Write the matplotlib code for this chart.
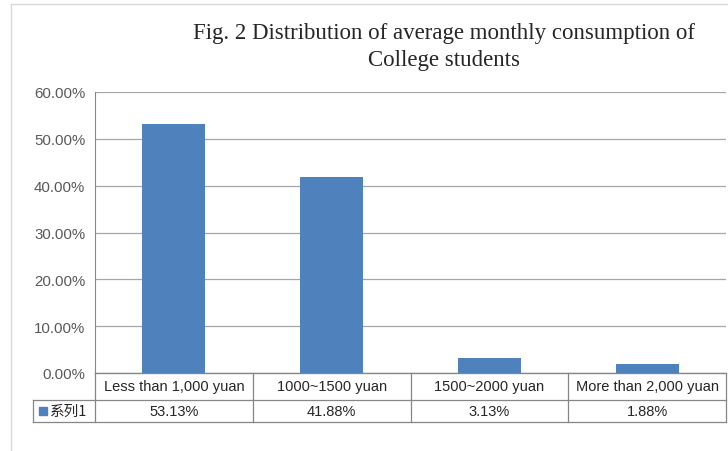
import matplotlib.pyplot as plt
import matplotlib.transforms as mtransforms
from matplotlib.patches import Rectangle

# dados do grafico
categorias = ['Less than 1,000 yuan', '1000~1500 yuan', '1500~2000 yuan', 'More than 2,000 yuan']
valores = [53.13, 41.88, 3.13, 1.88]
serie = '系列1'
titulo = 'Fig. 2 Distribution of average monthly consumption of\nCollege students'
yticks = [0, 10, 20, 30, 40, 50, 60]

W, H = 728, 452
cor_barra = '#4f81bd'
cor_grade = '#a6a6a6'
cor_texto = '#595959'

fig = plt.figure(figsize=(W / 100, H / 100), dpi=100)

# moldura do grafico (so aparecem a borda esquerda e a de cima)
fig.add_artist(plt.Line2D([11 / W, 11 / W], [0, 1 - 5 / H], color='#d9d9d9', lw=1))
fig.add_artist(plt.Line2D([11 / W, 1], [1 - 5 / H, 1 - 5 / H], color='#d9d9d9', lw=1))

# area de plotagem
x0, x1, y0, y1 = 95, 726, 93, 374
ax = fig.add_axes([x0 / W, 1 - y1 / H, (x1 - x0) / W, (y1 - y0) / H])

pos = list(range(len(categorias)))
ax.bar(pos, valores, width=0.4, color=cor_barra, zorder=3)
ax.set_xlim(-0.5, len(categorias) - 0.5)
ax.set_ylim(0, 60)
ax.set_yticks(yticks)
ax.set_yticklabels(['%.2f%%' % v for v in yticks])
ax.set_xticks([])
ax.tick_params(axis='y', length=0, pad=7, labelsize=10.8, labelcolor=cor_texto)
for lbl in ax.get_yticklabels():
    lbl.set_family('Liberation Sans')

ax.grid(True, axis='y', color=cor_grade, lw=0.9, zorder=0)
for s in ['top', 'right']:
    ax.spines[s].set_visible(False)
ax.spines['left'].set_color('#868686')
ax.spines['bottom'].set_color('#868686')

# tabela de dados abaixo do eixo
ph = y1 - y0
r1 = -(401 - y1) / ph
r2 = -(423 - y1) / ph
esq = -0.5 - (x0 - 33) / ((x1 - x0) / len(categorias))
dir_ = len(categorias) - 0.5
trans = mtransforms.blended_transform_factory(ax.transData, ax.transAxes)
kw = dict(transform=trans, color='#868686', lw=0.9, clip_on=False)

ax.plot([-0.5, dir_], [0, 0], **kw)
ax.plot([esq, dir_], [r1, r1], **kw)
ax.plot([esq, dir_], [r2, r2], **kw)
ax.plot([esq, esq], [r1, r2], **kw)
for i in range(len(categorias) + 1):
    ax.plot([i - 0.5, i - 0.5], [0, r2], **kw)

for i, (c, v) in enumerate(zip(categorias, valores)):
    ax.text(i, r1 / 2, c, transform=trans, ha='center', va='center',
            fontsize=10.5, color='#262626', family='Liberation Sans')
    ax.text(i, (r1 + r2) / 2, '%.2f%%' % v, transform=trans, ha='center', va='center',
            fontsize=10.5, color='#262626', family='Liberation Sans')

# legenda da serie na tabela
ax.add_patch(Rectangle((esq + 0.04, (r1 + r2) / 2 - 0.014), 0.05, 0.028,
                       transform=trans, color=cor_barra, clip_on=False))
ax.text(esq + 0.11, (r1 + r2) / 2, serie, transform=trans, ha='left', va='center',
        fontsize=10.5, color='#262626', family=['Noto Sans CJK SC', 'DejaVu Sans'])

# titulo
fig.text(444 / W, 1 - 47 / H, titulo, ha='center', va='center', fontsize=16.5,
         family='Liberation Serif', color='#262626', linespacing=1.35)

fig.savefig('out.png', dpi=100)
